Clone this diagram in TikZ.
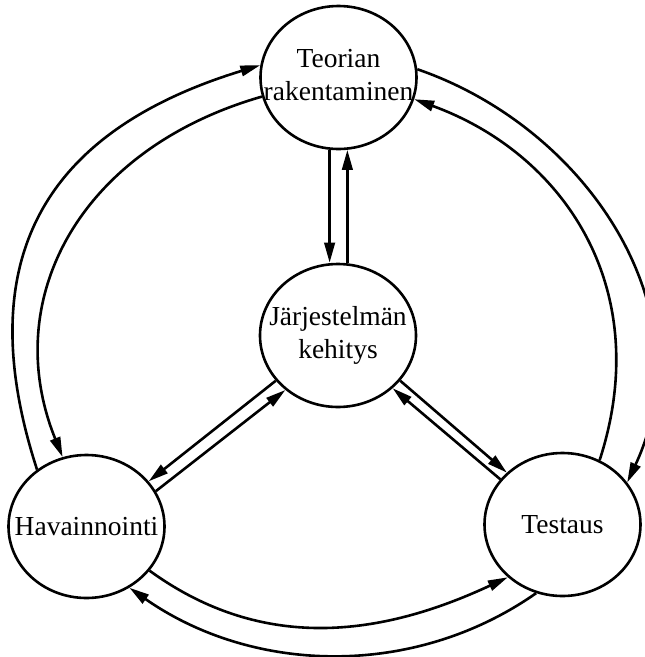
\documentclass[tikz,border=0pt]{standalone}
\usepackage{fontspec}
\setmainfont{Liberation Serif}
\usetikzlibrary{arrows.meta, shapes.geometric}

\begin{document}
\begin{tikzpicture}[x=1pt, y=-1pt,
    stage/.style={draw, ellipse, line width=2.6pt, minimum width=156pt, minimum height=143pt, inner sep=0pt},
    txt/.style={font=\fontsize{27.5}{33}\selectfont, align=center},
    arr/.style={line width=2.6pt, -{Triangle[length=20pt, width=10.5pt]}}]
\useasboundingbox (0,0) rectangle (645,657);
\node[stage, label={[txt, yshift=2pt]center:Teorian\\rakentaminen}] (top) at (338.5,77.5) {};
\node[stage, label={[txt]center:Järjestelmän\\kehitys}] (mid) at (338,335.5) {};
\node[stage, label={[txt]center:Havainnointi}] (hav) at (86.5,526.5) {};
\node[stage, label={[txt]center:Testaus}] (test) at (562.5,524.5) {};
% top <-> mid
\draw[arr] (top.-97) -- (top.-97 |- mid.north);
\draw[arr] (mid.north -| top.-83) -- (top.-83);
% mid <-> sides
\draw[arr] (mid.-144) -- (hav.36);
\draw[arr] (hav.27) -- (mid.-134);
\draw[arr] (mid.-36) -- (test.137);
\draw[arr] (test.144) -- (mid.-44);
% outer ring
\draw[arr] (hav.131) to[out=108, in=197, out distance=245pt, in distance=200pt] (top.171);
\draw[arr] (top.194) to[out=196, in=112, out distance=190pt, in distance=170pt] (hav.109);
\draw[arr] (top.6) to[out=-19, in=65, out distance=180pt, in distance=190pt] (test.33);
\draw[arr] (test.60) to[out=72, in=-20, out distance=180pt, in distance=160pt] (top.-16);
\draw[arr] (hav.-35) to[out=-36, in=205, out distance=140pt, in distance=140pt] (test.-136);
\draw[arr] (test.-111) to[out=215, in=-35, out distance=150pt, in distance=150pt] (hav.-55);
\end{tikzpicture}
\end{document}
